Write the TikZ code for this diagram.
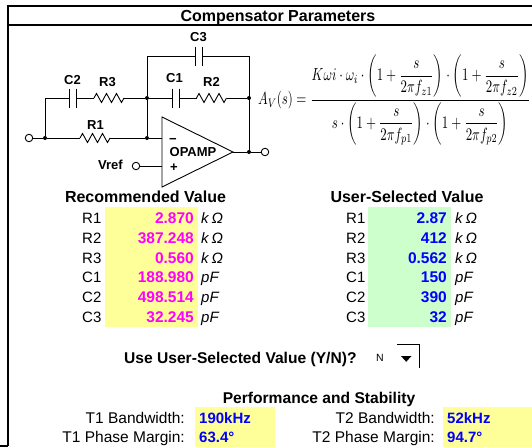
\documentclass[tikz,border=0pt]{standalone}
\usepackage{fontspec}
\setmainfont{Liberation Sans}
\usepackage{graphicx}
\usepackage{amsmath}
\definecolor{cellyellow}{HTML}{FFFF99}
\definecolor{cellgreen}{HTML}{CCFFCC}
\definecolor{valmag}{HTML}{FF00FF}
\definecolor{valblue}{HTML}{0000FF}
\newcommand\myfs[1]{\fontsize{#1}{#1}\selectfont}
\begin{document}
\begin{tikzpicture}[x=1pt,y=-1pt,
  frame/.style={line width=1.2pt},
  wire/.style={line width=0.9pt},
  dotn/.style={circle,fill,inner sep=0,minimum size=4pt},
  term/.style={circle,draw,fill=white,inner sep=0,minimum size=7.5pt,line width=0.9pt},
  circl/.style={font=\myfs{13}\bfseries,inner sep=0,anchor=base},
  lab/.style={font=\myfs{15},inner sep=0},
  val/.style={font=\myfs{15.5}\bfseries,inner sep=0},
  hdr/.style={font=\myfs{16}\bfseries,inner sep=0,anchor=base},
  unitt/.style={font=\myfs{15}\itshape,inner sep=0,anchor=base west},
  resi/.pic={\draw[wire] (-15,0) -- ++(2.5,-4.5) -- ++(5,9) -- ++(5,-9) -- ++(5,9) -- ++(5,-9) -- ++(5,9) -- ++(2.5,-4.5);
             \coordinate (-w) at (-15,0); \coordinate (-e) at (15,0);},
  capa/.pic={\draw[wire] (-3.5,-9.5) -- (-3.5,9.5) (3.5,-9.5) -- (3.5,9.5);
             \coordinate (-w) at (-3.5,0); \coordinate (-e) at (3.5,0);}
]
\useasboundingbox (0,0) rectangle (532,447);
% frame
\draw[frame] (8,446) -- (8,6) -- (532,6);
\draw[frame] (8,25) -- (532,25);
\draw[frame] (0,446) -- (8,446);
\node[hdr] (title) at (278,21.7) {Compensator Parameters};

% ---------- circuit ----------
\coordinate (TL) at (147,56);
\coordinate (TR) at (249,56);
\coordinate (ML) at (45,98);
\coordinate (BL) at (45,138);
\coordinate (inm) at (162,138);
\coordinate (inp) at (162,166);
\coordinate (ot) at (162,117);
\coordinate (ob) at (162,187);
\coordinate (out) at (233,152);
\node[dotn] (BLd) at (45,138) {};
\node[dotn] (BM) at (147,138) {};
\node[dotn] (MM) at (147,98) {};
\node[dotn] (MR) at (249,98) {};
\node[dotn] (OR) at (249,152) {};
\node[term] (tin) at (29,138) {};
\node[term] (tout) at (265,152) {};
\node[term] (tref) at (136,166) {};

\pic (c3) at (198.5,56) {capa};
\pic (c2) at (73,98) {capa};
\pic (r3) at (109,98) {resi};
\pic (c1) at (175.5,98) {capa};
\pic (r2) at (211.5,98) {resi};
\pic (r1) at (95,138) {resi};

\draw[wire] (MM) -- (TL) -- (c3-w);
\draw[wire] (c3-e) -- (TR) -- (OR);
\draw[wire] (BLd) -- (ML) -- (c2-w);
\draw[wire] (c2-e) -- (r3-w);
\draw[wire] (r3-e) -- (MM) -- (c1-w);
\draw[wire] (c1-e) -- (r2-w);
\draw[wire] (r2-e) -- (MR);
\draw[wire] (tin) -- (BLd) -- (r1-w);
\draw[wire] (r1-e) -- (BM) -- (inm);
\draw[wire] (MM) -- (BM);
\draw[wire] (tref) -- (inp);
\draw[wire] (ot) -- (ob) -- (out) -- cycle;
\draw[wire] (out) -- (OR) -- (tout);

\node[circl] (lc3) at (198.5,41.6) {C3};
\node[circl] (lc2) at (72.5,84) {C2};
\node[circl] (lr3) at (107.5,86) {R3};
\node[circl] (lc1) at (174.5,82.5) {C1};
\node[circl] (lr2) at (211.5,86) {R2};
\node[circl] (lr1) at (95.5,129.6) {R1};
\node[circl] (lop) at (193,156.5) {OPAMP};
\node[circl] (lmin) at (173,143.5) {−};
\node[circl] (lplus) at (174,171) {+};
\node[circl,anchor=base east] (lvref) at (123,169.8) {Vref};

% ---------- transfer function ----------
\node[anchor=north west,inner sep=0] (tf) at (258,55) {\resizebox*{272pt}{90pt}{$\displaystyle
 A_V(s)=\frac{K\omega i\cdot\omega_i\cdot\left(1+\dfrac{s}{2\pi f_{z1}}\right)\cdot\left(1+\dfrac{s}{2\pi f_{z2}}\right)}
 {s\cdot\left(1+\dfrac{s}{2\pi f_{p1}}\right)\cdot\left(1+\dfrac{s}{2\pi f_{p2}}\right)}$}};

% ---------- tables ----------
\fill[cellyellow] (105,207) rectangle (198,327);
\fill[cellgreen] (368,207) rectangle (451,327);
\node[hdr] (hrec) at (145.5,202.7) {Recommended Value};
\node[hdr] (husr) at (407,202.7) {User-Selected Value};
\foreach \lab/\rv/\uv/\un/\i in {R1/2.870/2.87/{k\hspace{3pt}Ω}/0,
                                  R2/387.248/412/{k\hspace{3pt}Ω}/1,
                                  R3/0.560/0.562/{k\hspace{3pt}Ω}/2,
                                  C1/188.980/150/pF/3,
                                  C2/498.514/390/pF/4,
                                  C3/32.245/32/pF/5}{
  \pgfmathsetmacro\yy{223.7+19.7*\i}
  \node[lab,anchor=base west] (la\i) at (82,\yy) {\lab};
  \node[val,anchor=base east,text=valmag] (va\i) at (194,\yy) {\rv};
  \node[unitt] (ua\i) at (201,\yy) {\un};
  \node[lab,anchor=base west] (lb\i) at (346,\yy) {\lab};
  \node[val,anchor=base east,text=valblue] (vb\i) at (447,\yy) {\uv};
  \node[unitt] (ub\i) at (455,\yy) {\un};
}

% ---------- selection ----------
\node[font=\myfs{15.6}\bfseries,inner sep=0,anchor=base west] (use) at (124,363.5) {Use User-Selected Value (Y/N)?};
\node[font=\myfs{10.5},inner sep=0] (nsel) at (380,358) {N};
\coordinate (dd1) at (397,344);
\coordinate (dd2) at (419,344);
\coordinate (dd3) at (419,368);
\draw[line width=0.9pt] (dd1) -- (dd2) -- (dd3);
\fill (401,356) -- (411.5,356) -- (406.2,361.8) -- cycle;

% ---------- performance ----------
\node[font=\myfs{15.6}\bfseries,inner sep=0,anchor=base] (perf) at (319,403.5) {Performance and Stability};
\fill[cellyellow] (195,407) rectangle (275,447);
\fill[cellyellow] (443,407) rectangle (532,447);
\node[lab,font=\myfs{15.5},anchor=base east] (t1b) at (185,423.5) {T1 Bandwidth:};
\node[lab,font=\myfs{15.5},anchor=base east] (t1p) at (185,442.5) {T1 Phase Margin:};
\node[lab,font=\myfs{15.5},anchor=base east] (t2b) at (435,423.5) {T2 Bandwidth:};
\node[lab,font=\myfs{15.5},anchor=base east] (t2p) at (435,442.5) {T2 Phase Margin:};
\node[val,font=\myfs{15}\bfseries,anchor=base west,text=valblue] (v1b) at (199,423.5) {190kHz};
\node[val,font=\myfs{15}\bfseries,anchor=base west,text=valblue] (v1p) at (199,442.5) {63.4°};
\node[val,font=\myfs{15}\bfseries,anchor=base west,text=valblue] (v2b) at (447,423.5) {52kHz};
\node[val,font=\myfs{15}\bfseries,anchor=base west,text=valblue] (v2p) at (447,442.5) {94.7°};
\end{tikzpicture}
\end{document}
